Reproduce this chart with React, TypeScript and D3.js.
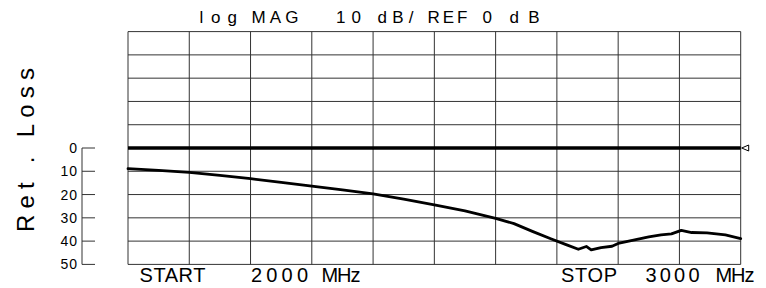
import React from 'react';
import * as d3 from 'd3';

// sweep 2000 .. 3000 MHz, return loss in dB (plotted downward)
const freqMHz = [
  2000, 2050, 2100, 2150, 2200, 2250, 2300, 2350, 2400, 2450, 2500, 2550,
  2600, 2630, 2660, 2690, 2715, 2735, 2748, 2756, 2772, 2790, 2800, 2825,
  2850, 2870, 2887, 2903, 2920, 2945, 2975, 3000,
];
const retLossDb = [
  8.9, 9.6, 10.5, 11.8, 13.2, 14.8, 16.4, 18.0, 19.7, 22.0, 24.4, 27.0,
  30.2, 32.5, 35.8, 39.0, 41.5, 43.5, 42.3, 43.8, 42.8, 42.2, 41.0, 39.6,
  38.2, 37.3, 36.9, 35.4, 36.3, 36.5, 37.3, 38.9,
];
const yTickLabels = [0, 10, 20, 30, 40, 50];
const refLevel = 0;
const startMHz = 2000;
const stopMHz = 3000;

const W = 766;
const H = 288;
const font = '"Liberation Sans", Arial, sans-serif';

export default function App() {
  const x = d3.scaleLinear().domain([startMHz, stopMHz]).range([128, 740.7]);
  const y = d3.scaleLinear().domain([-50, 50]).range([31.6, 264.4]);

  const xGrid = x.ticks(10);
  const yGrid = y.ticks(10);

  const line = d3
    .line<number>()
    .x((d, i) => x(freqMHz[i]))
    .y((d) => y(d));

  const axisX = 82;
  const refY = y(refLevel);
  const mx = x(stopMHz);

  return (
    <svg
      width={W}
      height={H}
      style={{ position: 'absolute', left: 0, top: 0, background: '#fff' }}
    >
      {/* title */}
      <g fontFamily={font} fontSize={17} fill="#000">
        <text x={199.5} y={23.3}>l</text>
        <text x={211} y={23.3} letterSpacing={7}>og</text>
        <text x={251.5} y={23.3} textLength={47} lengthAdjust="spacing">MAG</text>
        <text x={336} y={23.3} textLength={25} lengthAdjust="spacing">10</text>
        <text x={377.5} y={23.3} textLength={36} lengthAdjust="spacing">dB/</text>
        <text x={427.5} y={23.3} textLength={40} lengthAdjust="spacing">REF</text>
        <text x={482.5} y={23.3}>0</text>
        <text x={509.5} y={23.3} textLength={30} lengthAdjust="spacing">dB</text>
      </g>

      {/* grid */}
      <g stroke="#333" strokeWidth={1}>
        {yGrid.map((v) => (
          <line key={'h' + v} x1={x(startMHz)} x2={x(stopMHz)} y1={y(v)} y2={y(v)} />
        ))}
        {xGrid.map((f) => (
          <line key={'v' + f} x1={x(f)} x2={x(f)} y1={y(-50)} y2={y(50)} />
        ))}
      </g>

      {/* reference line + marker */}
      <line x1={x(startMHz)} x2={x(stopMHz)} y1={refY} y2={refY} stroke="#000" strokeWidth={3.5} />
      <path
        d={`M${mx + 1},${refY} L${mx + 8},${refY - 3} L${mx + 8},${refY + 3} Z`}
        fill="#fff"
        stroke="#000"
        strokeWidth={1}
      />

      {/* trace */}
      <path
        d={line(retLossDb) || ''}
        fill="none"
        stroke="#000"
        strokeWidth={2.8}
        strokeLinejoin="round"
        strokeLinecap="round"
      />

      {/* left scale */}
      <g stroke="#333" strokeWidth={1}>
        <line x1={axisX} x2={axisX} y1={y(yTickLabels[0])} y2={y(yTickLabels[yTickLabels.length - 1])} />
        {yTickLabels.map((v) => (
          <line key={'t' + v} x1={axisX} x2={95} y1={y(v)} y2={y(v)} />
        ))}
      </g>
      <g fontFamily={font} fontSize={14} fill="#000" textAnchor="end">
        {yTickLabels.map((v) => (
          <text key={'l' + v} x={78} y={y(v) + 5} letterSpacing={1}>
            {v}
          </text>
        ))}
      </g>

      {/* y title */}
      <text
        transform="translate(33.5,232) rotate(-90)"
        fontFamily={font}
        fontSize={24}
        textLength={164}
        lengthAdjust="spacing"
        fill="#000"
      >
        Ret . Loss
      </text>

      {/* sweep labels */}
      <g fontFamily={font} fontSize={20} fill="#000">
        <text x={139.5} y={281.5} textLength={66} lengthAdjust="spacing">START</text>
        <text x={251} y={281.5} textLength={57} lengthAdjust="spacing">{startMHz}</text>
        <text x={321.5} y={281.5} textLength={39} lengthAdjust="spacing">MHz</text>
        <text x={561} y={281.5} textLength={56} lengthAdjust="spacing">STOP</text>
        <text x={645.5} y={281.5} textLength={54} lengthAdjust="spacing">{stopMHz}</text>
        <text x={715.5} y={281.5} textLength={39} lengthAdjust="spacing">MHz</text>
      </g>
    </svg>
  );
}
